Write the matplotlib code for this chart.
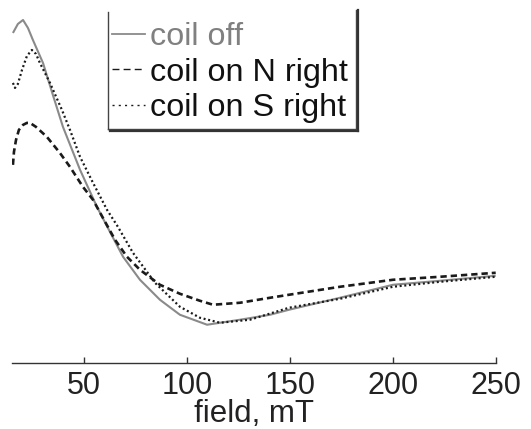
import matplotlib
matplotlib.use("Agg")
import matplotlib.pyplot as plt
from matplotlib.lines import Line2D

plt.rcParams['font.family'] = ['Liberation Sans', 'DejaVu Sans']

# field values (mT) and signal (arbitrary units)
field_off = [15.5, 17.9, 20.4, 22.8, 25.2, 30.1, 34.9, 39.8, 48.1, 56.3, 62.6, 69.0,
             77.2, 86.9, 96.6, 109.8, 125.8, 140.4, 149.6, 174.4, 200.1, 223.0, 250]
sig_off = [33.0, 33.9, 34.3, 33.5, 32.3, 30.0, 26.8, 23.6, 19.3, 15.6, 13.1, 10.6,
           8.3, 6.3, 4.8, 3.8, 4.3, 4.8, 5.3, 6.5, 7.8, 8.2, 8.7]

field_n = [15.5, 16.0, 17.0, 18.4, 20.4, 22.3, 23.8, 26.7, 32.0, 38.3, 43.2, 49.5, 54.4,
           59.2, 65.1, 70.9, 77.2, 86.9, 96.6, 106.3, 112.7, 125.8, 140.4, 149.6, 174.4,
           200.1, 223.0, 250]
sig_n = [19.8, 21.1, 22.3, 23.3, 23.8, 24.0, 24.0, 23.6, 22.6, 21.0, 19.6, 17.6, 16.3,
         14.5, 12.3, 10.6, 9.3, 7.8, 6.9, 6.2, 5.8, 6.0, 6.5, 6.8, 7.6, 8.3, 8.6, 9.0]

field_s = [15.5, 16.5, 17.9, 19.9, 22.3, 24.7, 26.7, 28.6, 33.5, 39.3, 43.2, 48.1, 54.4,
           61.2, 66.5, 73.8, 84.5, 96.6, 106.3, 116.1, 130.6, 149.6, 174.4, 200.1, 223.0, 250]
sig_s = [28.0, 27.5, 27.9, 29.3, 30.7, 31.3, 30.9, 30.0, 28.0, 25.3, 23.3, 20.6, 18.0,
         15.3, 13.6, 11.0, 8.0, 5.6, 4.5, 4.0, 4.3, 5.5, 6.4, 7.6, 8.1, 8.6]

labels = ["coil off", "coil on N right", "coil on S right"]
xticks = [50, 100, 150, 200, 250]

W, H = 531, 429
fig = plt.figure(figsize=(W / 100, H / 100), dpi=100)
ax = fig.add_axes([11.7 / W, 1 - 362.7 / H, (495.7 - 11.7) / W, 362.7 / H])

l1, = ax.plot(field_off, sig_off, color='#8a8a8a', lw=1.5, solid_capstyle='butt')
l2, = ax.plot(field_n, sig_n, color='#1a1a1a', lw=1.9, dashes=(2.4, 1.5))
l3, = ax.plot(field_s, sig_s, color='#1a1a1a', lw=1.6, dashes=(0.9, 1.2))

ax.set_xlim(14.9, 250)
ax.set_ylim(0, 36.3)
for s in ['top', 'right', 'left']:
    ax.spines[s].set_visible(False)
ax.spines['bottom'].set_color('#333333')
ax.spines['bottom'].set_linewidth(1.0)
ax.set_yticks([])
ax.set_xticks(xticks)
ax.set_xticklabels([str(t) for t in xticks])
ax.tick_params(axis='x', direction='in', length=4, width=1, color='#333333',
               labelsize=22, pad=6, labelcolor='#222222')
ax.set_xlabel("field, mT", fontsize=22.5, color='#222222', labelpad=-1.5)

h1 = Line2D([], [], color='#8a8a8a', lw=1.3)
h2 = Line2D([], [], color='#1a1a1a', lw=1.0, dashes=(5, 3))
h3 = Line2D([], [], color='#1a1a1a', lw=1.0, dashes=(1.5, 3))
leg = fig.legend([h1, h2, h3], labels, loc='upper left',
                 bbox_to_anchor=(112 / W, 1 - 22 / H), frameon=False,
                 fontsize=23.3, handlelength=1.02, handletextpad=0.15,
                 labelspacing=0.17, borderpad=0.0, borderaxespad=0)
leg.get_texts()[0].set_color('#808080')
for t in leg.get_texts()[1:]:
    t.set_color('#111111')

# legend frame (left, bottom, right with shadow)
def px(x, y):
    return x / W, 1 - y / H

fx, fy = zip(px(108, 12), px(108, 129))
fig.add_artist(Line2D(fx, fy, color='#444444', lw=1.0))
fx, fy = zip(px(108, 129), px(356, 129))
fig.add_artist(Line2D(fx, fy, color='#444444', lw=1.0))
fx, fy = zip(px(110, 131), px(358, 131))
fig.add_artist(Line2D(fx, fy, color='#333333', lw=1.6))
fx, fy = zip(px(356, 10), px(356, 129))
fig.add_artist(Line2D(fx, fy, color='#444444', lw=1.0))
fx, fy = zip(px(358, 10), px(358, 131))
fig.add_artist(Line2D(fx, fy, color='#333333', lw=1.6))

fig.savefig("out.png", dpi=100)
